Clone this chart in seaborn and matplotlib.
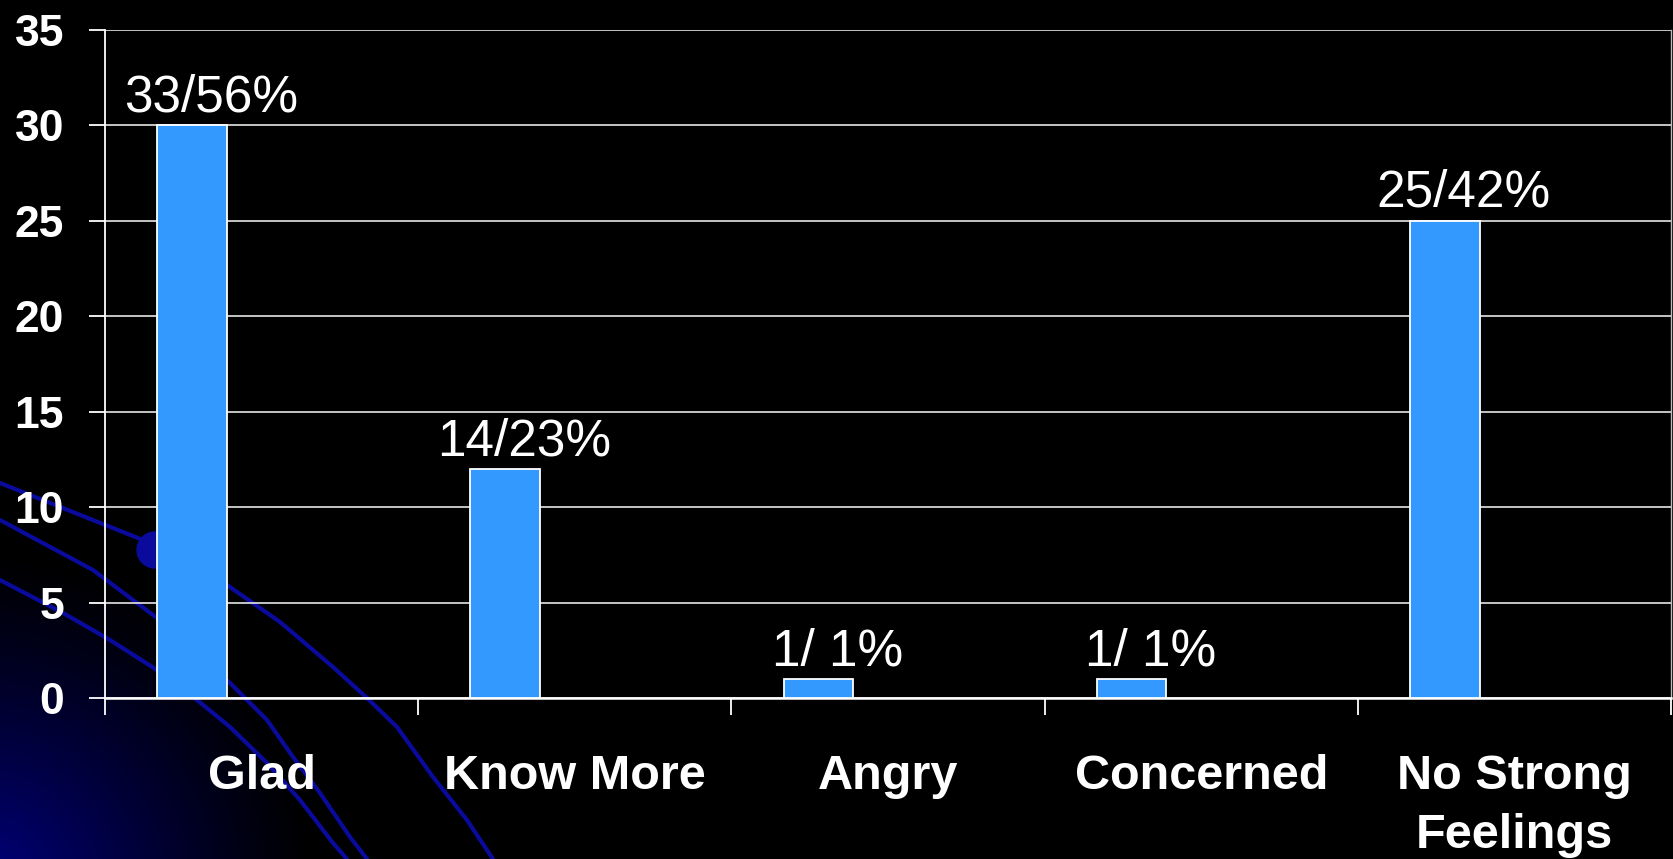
import numpy as np
import pandas as pd
import matplotlib
matplotlib.use("Agg")
import matplotlib.pyplot as plt
import seaborn as sns

# ---- data ----
categories = ["Glad", "Know More", "Angry", "Concerned", "No Strong\nFeelings"]
values = [30, 12, 1, 1, 25]
bar_labels = ["33/56%", "14/23%", "1/ 1%", "1/ 1%", "25/42%"]
series_levels = ["S1", "S2", "S3"]
y_ticks = [0, 5, 10, 15, 20, 25, 30, 35]

df = pd.DataFrame({"category": categories, "value": values, "series": "S1"})

sns.set_theme(style="dark")
plt.rcParams["font.family"] = ["Liberation Sans", "DejaVu Sans"]

W, H = 1673, 859
fig = plt.figure(figsize=(W / 100, H / 100), dpi=100, facecolor="black")

# ---- background decoration (slide template) ----
bg = fig.add_axes([0, 0, 1, 1], zorder=0)
bg.set_xlim(0, W)
bg.set_ylim(H, 0)
bg.axis("off")
yy, xx = np.mgrid[0:H, 0:W]
r = np.hypot(xx + 20, yy - 890)
t = np.clip(1 - r / 340, 0, 1) ** 1.2
img = np.zeros((H, W, 3))
img[..., 2] = 0.5 * t
bg.imshow(img, extent=(0, W, H, 0), aspect="auto", interpolation="bilinear")
curves = [
    [(0, 483), (143, 540), (157, 550), (227, 585), (280, 622), (333, 667),
     (367, 698), (397, 727), (433, 777), (467, 820), (493, 859)],
    [(0, 520), (93, 570), (157, 618), (230, 683), (267, 720), (293, 757),
     (320, 793), (350, 837), (367, 859)],
    [(0, 580), (63, 613), (110, 640), (157, 670), (197, 700), (230, 727),
     (267, 763), (300, 800), (333, 843), (347, 859)],
]
for c in curves:
    cx, cy = zip(*c)
    bg.plot(cx, cy, color="#0a0a9c", lw=3)
bg.add_patch(plt.Circle((155, 550), 18, color="#0a0a9c"))

# ---- main chart ----
ax = fig.add_axes([105 / W, (H - 698) / H, (1671 - 105) / W, (698 - 30) / H], zorder=1)
ax.set_facecolor("none")
sns.barplot(data=df, x="category", y="value", hue="series", hue_order=series_levels,
            order=categories, palette=["#3399FF"] * 3, width=2 / 3, saturation=1,
            dodge=True, edgecolor="white", linewidth=1.3, legend=False, ax=ax, zorder=3)

ax.set_ylim(0, 35)
ax.set_xlim(-0.5, 4.5)
ax.set_yticks(y_ticks)
ax.set_yticklabels([str(v) for v in y_ticks], fontsize=32, fontweight="bold", color="white")
ax.set_xticks(np.arange(-0.5, 5, 1.0))
ax.set_xticklabels([])
ax.set_xticks(range(len(categories)), minor=True)
ax.set_xticklabels(categories, minor=True, fontsize=35, fontweight="bold", color="white",
                   linespacing=1.42)
ax.tick_params(axis="x", which="major", length=12, width=1.3, color="white", direction="out", bottom=True)
ax.tick_params(axis="x", which="minor", length=0, pad=40)
ax.tick_params(axis="y", length=11.5, width=1.3, color="white", direction="out", pad=18, left=True)
ax.set_xlabel("")
ax.set_ylabel("")

ax.grid(axis="y", color="#e6e6e6", lw=1.2, zorder=1)
ax.grid(axis="x", visible=False)
ax.set_axisbelow(True)
ax.spines["top"].set_visible(False)
ax.spines["left"].set_color("white")
ax.spines["left"].set_linewidth(1.3)
ax.spines["bottom"].set_color("white")
ax.spines["bottom"].set_linewidth(1.8)
ax.spines["right"].set_color("#bbbbbb")
ax.spines["right"].set_linewidth(1.0)

bar_w = (2 / 3) / len(series_levels)
for i, (v, lab) in enumerate(zip(values, bar_labels)):
    ax.annotate(lab, xy=(i - bar_w + 0.06, v), xytext=(0, 10), textcoords="offset points",
                ha="center", va="baseline", fontsize=37, color="white", zorder=5)

fig.savefig("out.png", dpi=100, facecolor="black")
